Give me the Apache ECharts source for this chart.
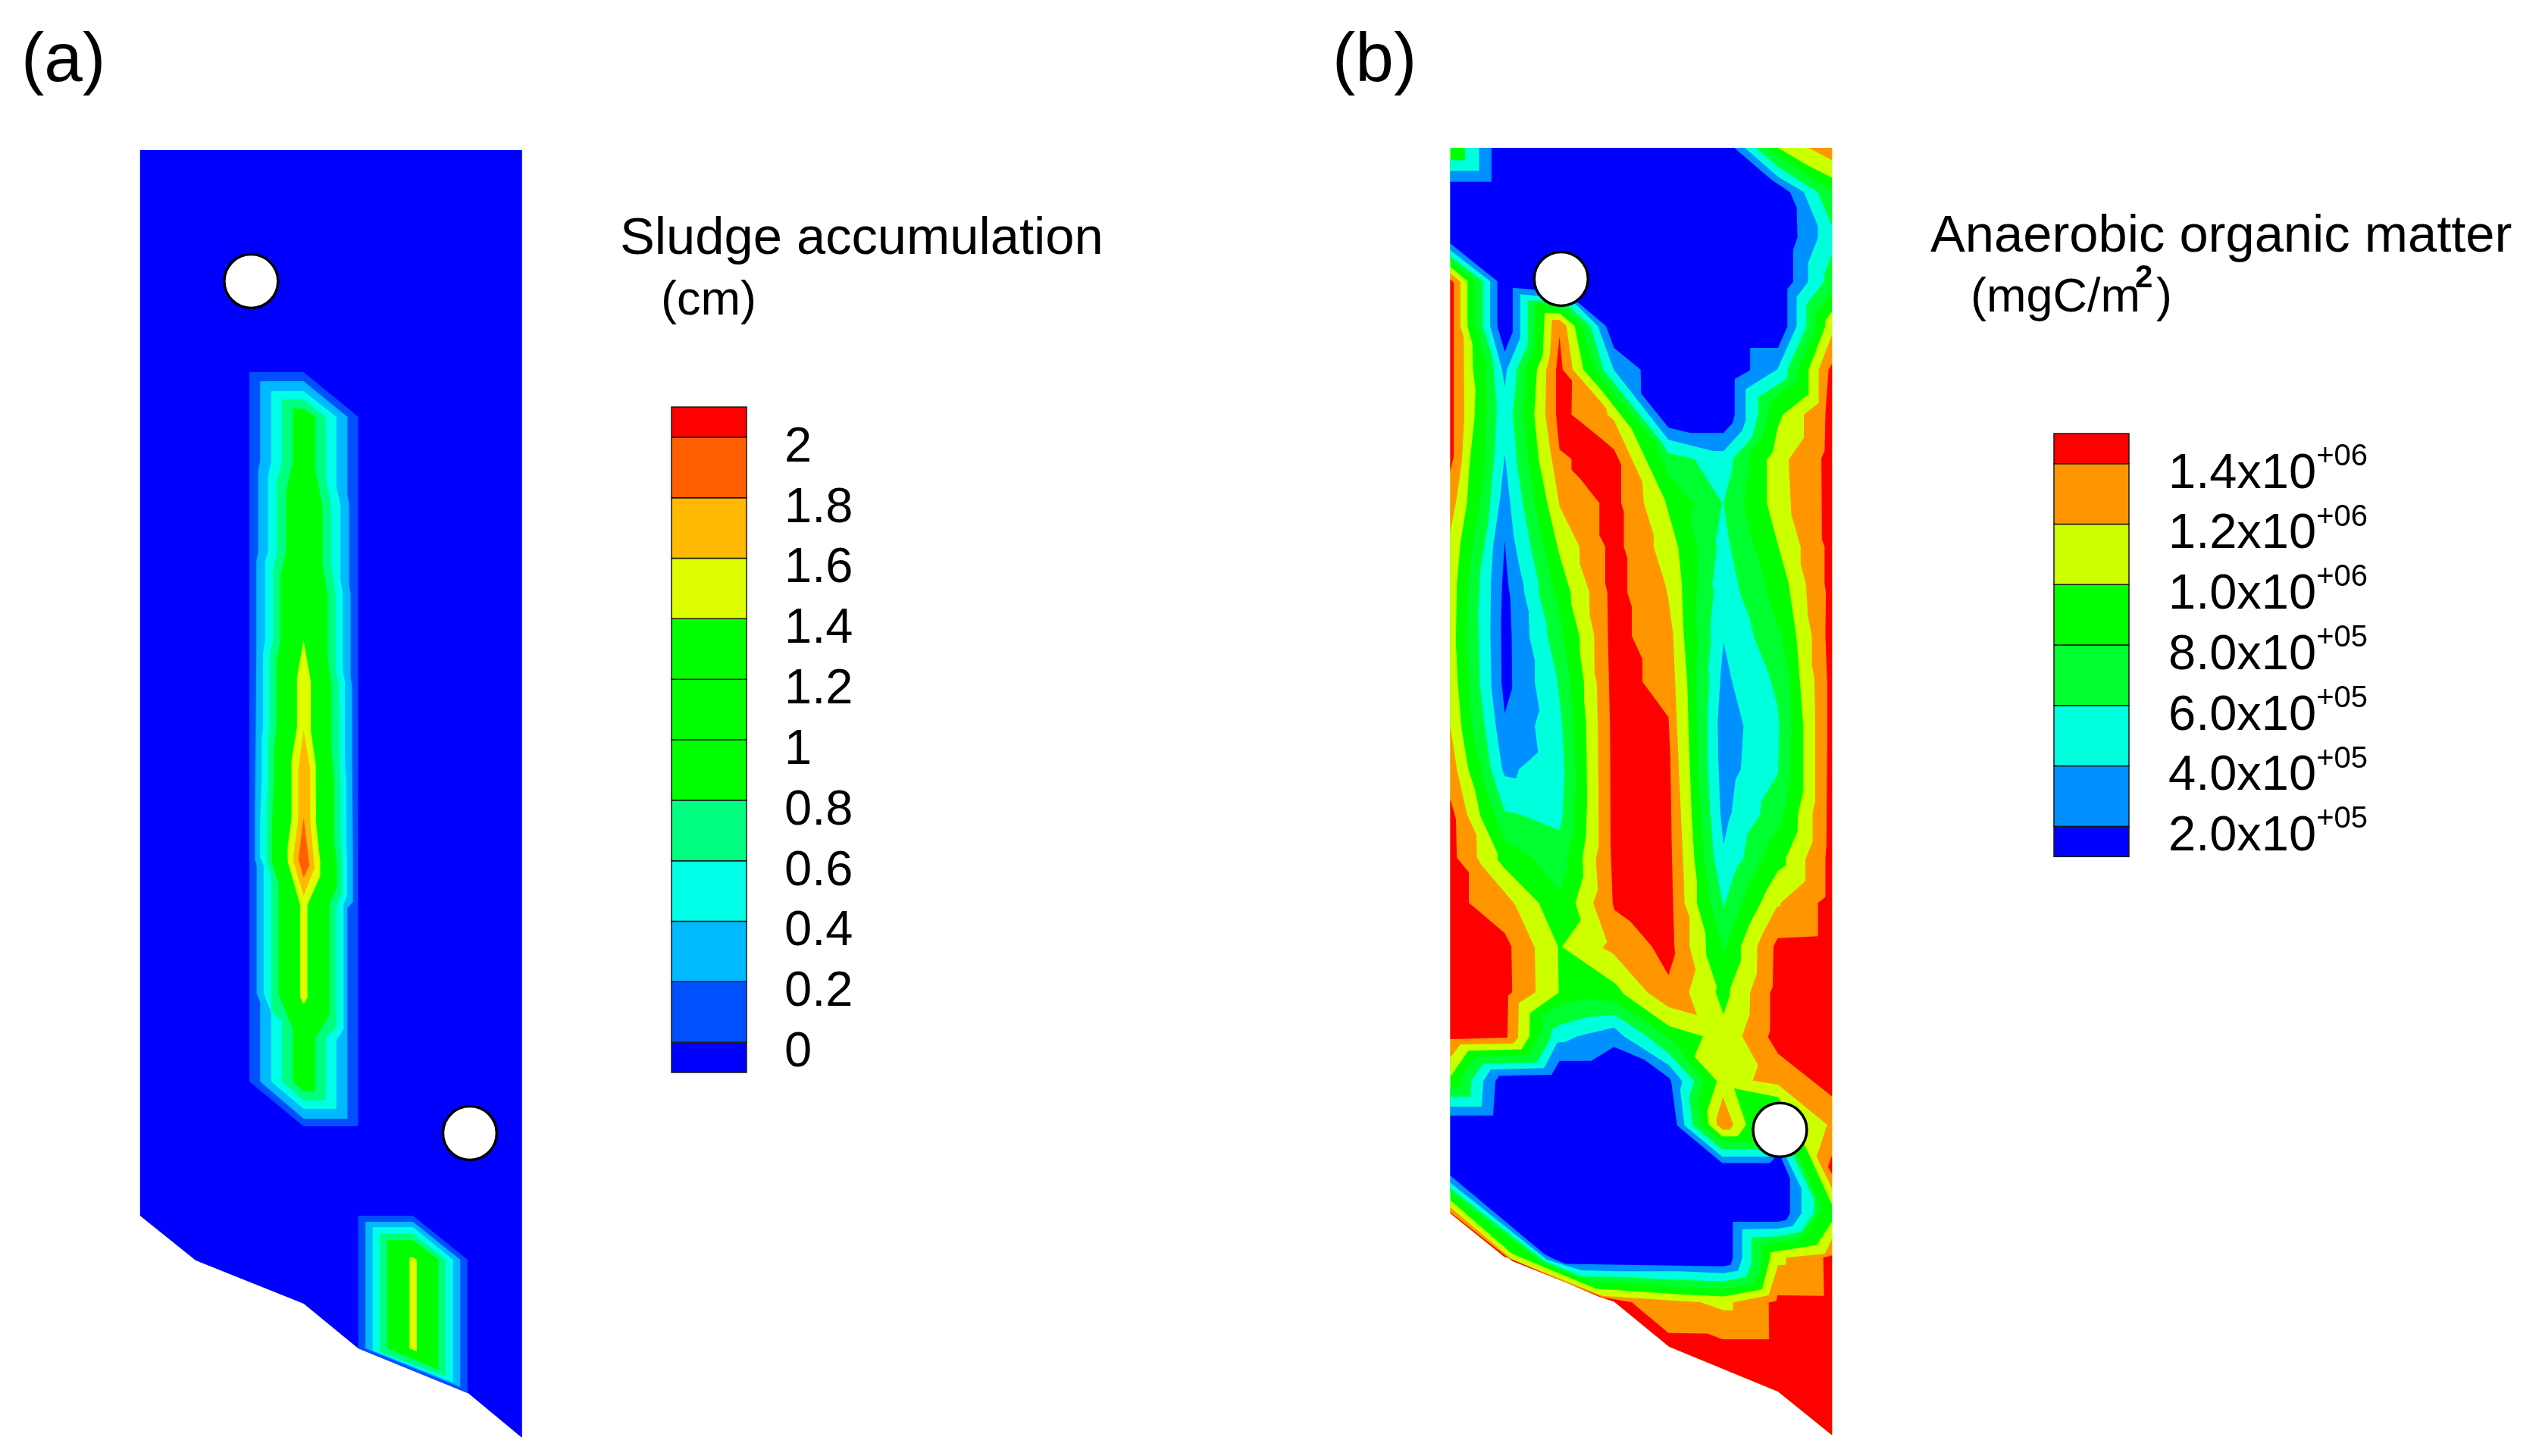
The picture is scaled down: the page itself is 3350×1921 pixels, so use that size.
<!DOCTYPE html>
<html>
<head>
<meta charset="utf-8">
<script src="https://cdn.jsdelivr.net/npm/echarts@6/dist/echarts.min.js"></script>
<style>
html, body { margin: 0; background: #fff; }
#chartContainer { width: 3350px; height: 1921px; }
</style>
</head>
<body>
<div id="chartContainer"></div>
<script>
'use strict';
// mesh coordinates, panel (a): x in mesh units, y down the page
const sludgeOutline = [[91,198],[1408,198],[1408,1897],[1222,1838],[843,1779],[655,1720],[283,1663],[91,1604]];
const sludgeMain1 = [[468,491],[655,491],[843,550],[843,1486],[655,1486],[468,1427]];
const sludgeMain2 = [[505,503],[655,503],[806,550],[806,653],[812,666],[812,771],[817,784],[817,894],[822,905],[823,1030],[825,1131],[825,1190],[806,1198],[806,1476],[655,1476],[505,1427],[505,1322],[493,1311],[493,1142],[487,1134],[487,1081],[488,1030],[490,960],[492,850],[492,740],[498,729],[498,620],[505,609]];
const sludgeMain3 = [[543,516],[655,516],[768,550],[768,642],[782,666],[782,765],[790,782],[790,883],[797,900],[797,1004],[802,1030],[803,1117],[805,1137],[805,1182],[793,1193],[793,1358],[768,1372],[768,1463],[655,1463],[543,1427],[543,1336],[517,1311],[517,1142],[505,1131],[505,1081],[510,1030],[510,976],[515,960],[515,861],[522,845],[522,740],[532,729],[532,628],[543,609]];
const sludgeMain4 = [[580,527],[655,527],[731,550],[731,631],[750,666],[750,746],[765,784],[765,883],[775,900],[778,1004],[782,1030],[782,1103],[788,1134],[788,1177],[768,1196],[768,1355],[731,1370],[731,1452],[655,1452],[580,1427],[580,1347],[543,1333],[543,1156],[527,1134],[527,1081],[532,1030],[532,982],[538,960],[538,864],[550,845],[550,751],[562,727],[562,636],[580,609]];
const sludgeMain5 = [[618,539],[655,539],[695,550],[695,620],[720,666],[720,746],[738,784],[738,867],[750,900],[750,982],[760,1030],[760,1109],[770,1137],[770,1170],[745,1193],[745,1339],[695,1370],[695,1440],[655,1440],[618,1427],[618,1358],[568,1311],[568,1165],[545,1137],[545,1097],[552,1030],[552,987],[562,960],[562,872],[575,845],[575,760],[595,727],[595,647],[618,609]];
const sludgeMain8 = [[655,845],[680,900],[680,965],[697,1009],[697,1030],[698,1086],[712,1137],[712,1156],[668,1194],[668,1316],[655,1325],[643,1316],[643,1194],[600,1137],[600,1117],[613,1081],[613,1004],[632,960],[632,894]];
const sludgeMain9 = [[655,963],[678,1017],[678,1086],[693,1145],[655,1182],[620,1137],[620,1128],[636,1081],[636,1017]];
const sludgeMain10 = [[655,1079],[675,1142],[655,1158],[637,1134]];
const sludgeSmall1 = [[843,1604],[1032,1604],[1220,1662],[1220,1838],[843,1779]];
const sludgeSmall2 = [[868,1612],[1032,1612],[1195,1662],[1195,1830],[868,1779]];
const sludgeSmall3 = [[893,1619],[1032,1619],[1170,1662],[1170,1824],[893,1782]];
const sludgeSmall4 = [[918,1628],[1032,1628],[1145,1662],[1145,1816],[918,1784]];
const sludgeSmall5 = [[943,1636],[1032,1636],[1120,1662],[1120,1807],[943,1779]];
const sludgeSmall8 = [[1020,1659],[1032,1659],[1045,1662],[1045,1783],[1020,1779]];
const sludgeWells = [[474,371],[1228,1495]];

// panel (b), mesh coordinates
const organicOutline = [[67,65],[1503,65],[1503,4503],[1300,4353],[890,4198],[683,4043],[625,4025],[300,3898],[270,3888],[67,3738]];
const organicTop3 = [[1258,65],[1450,185],[1503,210],[1503,565],[1440,640],[1440,690],[1372,830],[1372,865],[1265,945],[1262,985],[1240,1065],[1195,1115],[1190,1165],[1172,1290],[1195,1400],[1225,1480],[1252,1568],[1262,1613],[1310,1738],[1345,1898],[1350,2068],[1345,2228],[1330,2318],[1310,2398],[1255,2473],[1245,2513],[1195,2593],[1145,2718],[1095,2838],[1045,2668],[1022,2513],[1010,2358],[998,2168],[990,1888],[997,1788],[990,1638],[1000,1568],[997,1450],[970,1340],[985,1290],[893,1200],[840,1085],[610,830],[565,680],[490,620],[400,600],[390,600],[385,750],[350,830],[342,985],[360,1140],[385,1290],[420,1450],[450,1568],[478,1668],[495,1768],[520,1908],[530,2068],[540,2248],[530,2418],[505,2528],[510,2543],[478,2628],[385,2518],[275,2453],[230,2358],[182,2208],[150,2068],[140,1968],[130,1768],[133,1568],[150,1450],[172,1330],[195,1200],[205,960],[200,800],[160,680],[160,525],[67,458],[67,108],[123,108],[123,65]];
const organicTop2 = [[1218,65],[1300,130],[1450,218],[1503,335],[1503,430],[1475,500],[1473,527],[1407,605],[1407,682],[1335,832],[1335,860],[1225,925],[1225,985],[1202,1065],[1130,1137],[1130,1165],[1095,1290],[1120,1440],[1150,1568],[1160,1608],[1190,1678],[1212,1758],[1265,1878],[1298,1988],[1305,2058],[1300,2223],[1238,2316],[1232,2366],[1185,2430],[1170,2513],[1143,2550],[1095,2683],[1058,2508],[1045,2358],[1035,2188],[1035,2008],[1042,1898],[1037,1863],[1047,1768],[1045,1713],[1058,1598],[1053,1568],[1070,1445],[1065,1420],[1090,1290],[985,1137],[888,1118],[855,1072],[643,830],[595,680],[510,610],[420,592],[360,592],[358,745],[317,830],[315,870],[302,985],[320,1165],[340,1290],[372,1450],[400,1568],[400,1603],[430,1708],[433,1748],[468,1888],[488,2048],[497,2218],[490,2368],[478,2418],[330,2363],[272,2353],[220,2208],[192,2028],[178,1908],[172,1668],[178,1568],[180,1520],[210,1360],[235,1100],[242,960],[228,795],[190,680],[190,525],[67,440],[67,108],[123,108],[123,65]];
const organicTop1 = [[175,65],[1175,65],[1300,165],[1397,218],[1450,335],[1450,375],[1413,462],[1413,527],[1370,580],[1370,680],[1298,828],[1178,897],[1178,1005],[1165,1040],[1095,1110],[1055,1110],[888,1072],[682,830],[622,680],[540,605],[450,580],[330,570],[330,720],[280,830],[272,890],[262,830],[217,680],[217,525],[67,418],[67,145],[175,145]];
const organicTop0 = [[222,65],[1135,65],[1275,175],[1345,218],[1370,270],[1373,375],[1357,415],[1357,527],[1335,552],[1335,682],[1300,755],[1195,755],[1195,832],[1137,862],[1137,985],[1130,1012],[1095,1048],[970,1048],[888,1030],[785,912],[783,830],[683,755],[653,680],[550,600],[470,560],[302,548],[302,700],[272,768],[244,680],[244,525],[67,395],[67,182],[222,182]];
const organicLeftLobe1 = [[272,1120],[290,1270],[305,1400],[325,1500],[342,1568],[345,1598],[362,1663],[365,1753],[385,1833],[385,1908],[402,2003],[385,2058],[397,2148],[375,2168],[325,2208],[315,2240],[272,2231],[262,2208],[240,2068],[222,1928],[218,1738],[220,1568],[228,1440],[255,1270]];
const organicLeftLobe0 = [[272,1420],[285,1568],[293,1618],[298,1748],[300,1928],[272,2015],[260,1908],[258,1698],[262,1568]];
const organicRightLobe1 = [[1095,1768],[1125,1898],[1170,2058],[1160,2208],[1140,2243],[1125,2358],[1115,2383],[1095,2468],[1083,2358],[1075,2168],[1073,2038],[1085,1868]];
const organicLow3 = [[67,3305],[105,3303],[105,3273],[165,3198],[360,3193],[415,3103],[410,3058],[490,3015],[580,2998],[683,3008],[820,3088],[900,3143],[1020,3283],[1000,3338],[1010,3433],[1090,3493],[1200,3493],[1300,3500],[1380,3543],[1465,3723],[1385,3828],[1240,3848],[1235,3938],[1205,3983],[1095,3998],[930,3993],[700,3978],[600,3975],[420,3913],[67,3673]];
const organicLow2 = [[67,3336],[143,3336],[147,3280],[190,3223],[393,3218],[445,3133],[448,3106],[480,3088],[580,3063],[683,3053],[800,3123],[890,3188],[985,3283],[965,3338],[980,3435],[1090,3518],[1210,3518],[1300,3530],[1360,3543],[1435,3688],[1435,3738],[1385,3803],[1298,3818],[1200,3821],[1200,3913],[1180,3958],[1095,3973],[930,3968],[700,3958],[560,3956],[420,3903],[67,3653]];
const organicLow1 = [[67,3371],[185,3371],[192,3281],[220,3243],[420,3238],[470,3150],[500,3148],[545,3128],[683,3098],[720,3128],[890,3228],[940,3283],[932,3313],[948,3435],[1090,3543],[1240,3543],[1330,3543],[1388,3653],[1388,3738],[1355,3783],[1300,3791],[1165,3793],[1165,3893],[1150,3936],[1095,3945],[930,3938],[700,3938],[560,3935],[430,3898],[67,3633]];
const organicLow0 = [[67,3401],[228,3401],[237,3283],[250,3265],[448,3261],[478,3213],[597,3213],[683,3165],[795,3208],[890,3271],[898,3283],[920,3435],[1090,3565],[1270,3565],[1290,3543],[1310,3543],[1345,3618],[1345,3738],[1332,3761],[1300,3768],[1130,3768],[1130,3893],[1122,3916],[1095,3921],[500,3913],[450,3893],[420,3878],[67,3608]];
const organicLeft5 = [[67,475],[132,525],[132,680],[150,740],[153,830],[162,900],[158,1000],[140,1150],[130,1290],[105,1430],[92,1568],[88,1768],[95,1908],[110,2068],[135,2208],[160,2278],[180,2368],[245,2498],[245,2518],[265,2543],[400,2668],[472,2818],[475,2978],[367,3048],[365,3128],[335,3173],[135,3178],[67,3268]];
const organicCentre5 = [[422,635],[478,635],[535,680],[568,830],[640,905],[750,1035],[875,1280],[925,1445],[938,1568],[940,1628],[945,1738],[958,1898],[965,2118],[975,2368],[985,2518],[995,2593],[995,2668],[1027,2773],[1030,2848],[1070,2958],[1065,2976],[1095,3053],[1118,2988],[1120,2963],[1160,2868],[1160,2818],[1195,2738],[1235,2668],[1255,2628],[1300,2558],[1330,2538],[1330,2513],[1373,2423],[1375,2363],[1395,2283],[1395,2058],[1370,1758],[1340,1568],[1290,1400],[1258,1290],[1258,1140],[1280,1115],[1300,1025],[1318,985],[1415,915],[1415,830],[1478,680],[1478,660],[1503,630],[1503,3708],[1405,3513],[1300,3338],[1135,3308],[1180,3433],[1148,3473],[1090,3473],[1040,3433],[1033,3388],[1070,3283],[985,3198],[1018,3128],[890,3093],[720,2983],[690,2948],[487,2820],[558,2728],[538,2668],[567,2578],[565,2508],[577,2438],[582,2318],[580,2168],[578,2048],[570,1968],[570,1908],[555,1808],[553,1748],[522,1638],[520,1598],[510,1568],[475,1460],[432,1290],[400,1140],[383,985],[393,830],[415,780]];
const organicBottom5 = [[1503,3768],[1445,3848],[1272,3873],[1270,3893],[1240,4001],[1095,4025],[930,4018],[615,3998],[300,3878],[67,3693],[67,3738],[270,3888],[300,3898],[625,4025],[683,4043],[890,4198],[1300,4353],[1503,4503]];
const organicCorner5 = [[1300,65],[1400,120],[1503,168],[1503,65]];
const organicCorner6 = [[1415,65],[1503,108],[1503,65]];
const organicLeftUpper6 = [[67,497],[105,527],[105,680],[118,720],[120,1000],[110,1150],[90,1280],[67,1390]];
const organicLeftLower6 = [[67,2058],[92,2208],[130,2363],[165,2433],[168,2513],[185,2538],[245,2603],[310,2673],[385,2823],[388,2976],[325,3013],[322,3133],[305,3153],[105,3156],[67,3201]];
const organicCentre6 = [[450,658],[442,780],[428,830],[425,985],[442,1100],[478,1300],[553,1440],[555,1500],[580,1568],[590,1598],[592,1678],[608,1743],[610,1878],[618,1908],[622,2048],[625,2368],[625,2473],[615,2518],[622,2623],[605,2668],[657,2803],[640,2823],[680,2843],[810,2978],[890,3028],[995,3055],[965,2976],[990,2898],[967,2818],[967,2718],[948,2668],[945,2568],[935,2368],[925,2168],[905,1738],[885,1608],[875,1568],[832,1440],[832,1400],[795,1290],[790,1218],[683,1005],[658,985],[655,965],[600,905],[528,830],[504,680],[478,658]];
const organicRight6 = [[1503,710],[1453,830],[1453,945],[1397,985],[1397,1065],[1340,1140],[1350,1330],[1385,1440],[1385,1500],[1405,1568],[1412,1678],[1427,1748],[1427,1848],[1437,1898],[1440,2048],[1440,2318],[1430,2358],[1430,2458],[1403,2518],[1403,2593],[1310,2668],[1310,2678],[1295,2683],[1240,2778],[1222,2818],[1220,2913],[1195,2978],[1193,3053],[1165,3128],[1225,3228],[1205,3281],[1300,3295],[1485,3433],[1445,3543],[1503,3653]];
const organicDrop6 = [[1093,3338],[1068,3413],[1070,3433],[1093,3450],[1118,3450],[1132,3433]];
const organicBottom6 = [[1503,3828],[1475,3878],[1330,3891],[1330,3915],[1300,3918],[1265,4021],[1130,4046],[1130,4073],[1095,4073],[1010,4045],[930,4041],[640,4023],[300,3898],[67,3718],[67,3738],[270,3888],[300,3898],[625,4025],[683,4043],[890,4198],[1300,4353],[1503,4503]];
const organicLeftUpper7 = [[67,518],[80,530],[80,1130],[67,1180]];
const organicLeftLower7 = [[67,2308],[88,2378],[92,2513],[137,2563],[137,2668],[170,2693],[272,2773],[297,2818],[300,2976],[285,2988],[282,3133],[67,3138]];
const organicCentre7 = [[478,715],[490,830],[525,868],[523,985],[632,1065],[683,1105],[710,1158],[710,1290],[720,1320],[720,1440],[733,1480],[733,1598],[750,1648],[750,1748],[790,1828],[790,1906],[888,2028],[895,2168],[900,2468],[905,2668],[910,2818],[913,2843],[888,2918],[825,2818],[745,2733],[685,2693],[678,2673],[670,2468],[668,2068],[660,1748],[658,1598],[650,1568],[650,1440],[628,1400],[628,1290],[555,1205],[523,1175],[523,1138],[478,1105],[465,985],[465,830]];
const organicRight7 = [[1503,810],[1490,830],[1478,985],[1475,1110],[1463,1135],[1465,1415],[1475,1440],[1475,1568],[1480,1598],[1478,1748],[1485,1908],[1485,2118],[1482,2468],[1478,2513],[1478,2648],[1450,2668],[1450,2783],[1298,2790],[1283,2818],[1280,2958],[1270,2978],[1270,3108],[1262,3131],[1300,3188],[1503,3335]];
const organicNotch7 = [[1503,3538],[1488,3578],[1503,3603]];
const organicBottom7 = [[1503,3883],[1470,3891],[1473,4023],[1298,4021],[1293,4041],[1265,4046],[1266,4173],[1090,4173],[1035,4153],[888,4151],[750,4045],[640,4028],[300,3903],[67,3735],[67,3738],[270,3888],[300,3898],[625,4025],[683,4043],[890,4198],[1300,4353],[1503,4503]];
const organicWells = [[484,517],[1307,3451]];

// legends
const sludgeEdges = [-0.1, 0, 0.2, 0.4, 0.6, 0.8, 1, 1.2, 1.4, 1.6, 1.8, 2, 2.1];
const sludgeTicks = ['0', '0.2', '0.4', '0.6', '0.8', '1', '1.2', '1.4', '1.6', '1.8', '2'];
const organicEdges = [1e5, 2e5, 4e5, 6e5, 8e5, 1e6, 1.2e6, 1.4e6, 1.5e6];
const organicTicks = ['2.0x10', '4.0x10', '6.0x10', '8.0x10', '1.0x10', '1.2x10', '1.4x10'];
const organicExponents = ['+05', '+05', '+05', '+05', '+06', '+06', '+06'];

const sludgeColors = ['#0000ff', '#0050ff', '#00b9ff', '#00ffe6', '#00ff80', '#00ff00', '#00ff00', '#00ff00', '#dfff00', '#ffb900', '#ff5f00', '#ff0000'];
const organicColors = ['#0000ff', '#0090ff', '#00ffdc', '#00ff30', '#00ff00', '#ccff00', '#ff9600', '#ff0000'];

// painted in this order, later ones on top: [colour index, polygon]
const sludgeLayers = [
    [0, sludgeOutline],
    [1, sludgeMain1], [2, sludgeMain2], [3, sludgeMain3], [4, sludgeMain4], [5, sludgeMain5],
    [8, sludgeMain8], [9, sludgeMain9], [10, sludgeMain10],
    [1, sludgeSmall1], [2, sludgeSmall2], [3, sludgeSmall3], [4, sludgeSmall4], [5, sludgeSmall5], [8, sludgeSmall8]
];
const organicLayers = [
    [4, organicOutline],
    [3, organicTop3], [3, organicLow3],
    [2, organicTop2], [2, organicLow2],
    [1, organicTop1], [1, organicLow1], [1, organicLeftLobe1], [1, organicRightLobe1],
    [0, organicTop0], [0, organicLow0], [0, organicLeftLobe0],
    [5, organicLeft5], [5, organicCentre5], [5, organicBottom5], [5, organicCorner5],
    [6, organicCorner6], [6, organicLeftUpper6], [6, organicLeftLower6], [6, organicCentre6], [6, organicRight6], [6, organicDrop6], [6, organicBottom6],
    [7, organicLeftUpper7], [7, organicLeftLower7], [7, organicCentre7], [7, organicRight7], [7, organicNotch7], [7, organicBottom7]
];

const font = 'Liberation Sans';

function contourSeries(layers, colors, axis) {
    return {
        type: 'custom',
        xAxisIndex: axis,
        yAxisIndex: axis,
        silent: true,
        clip: false,
        data: layers.map((l, i) => [i, i]),
        renderItem: function(params, api) {
            let layer = layers[params.dataIndex];
            return {
                type: 'polygon',
                shape: { points: layer[1].map(p => api.coord(p)) },
                style: { fill: colors[layer[0]] }
            };
        }
    };
}

function wellSeries(wells, axis) {
    return {
        type: 'scatter',
        xAxisIndex: axis,
        yAxisIndex: axis,
        silent: true,
        z: 5,
        symbol: 'circle',
        symbolSize: 71,
        itemStyle: { color: '#fff', borderColor: '#000', borderWidth: 3.5, opacity: 1 },
        data: wells
    };
}

function legendSeries(edges, colors, axis) {
    return {
        type: 'custom',
        xAxisIndex: axis,
        yAxisIndex: axis,
        silent: true,
        clip: false,
        data: colors.map((c, i) => [0, edges[i], i]),
        renderItem: function(params, api) {
            let i = params.dataIndex;
            let a = api.coord([0, edges[i]]);
            let b = api.coord([1, edges[i + 1]]);
            return {
                type: 'rect',
                shape: { x: a[0], y: b[1], width: b[0] - a[0], height: a[1] - b[1] },
                style: { fill: colors[i], stroke: '#1a1a1a', lineWidth: 1.5 }
            };
        }
    };
}

function hiddenX(min, max, gridIndex) {
    return { type: 'value', gridIndex: gridIndex, min: min, max: max, show: false };
}

function heading(text, left, top, size) {
    return {
        text: text, left: left, top: top, padding: 0,
        textStyle: { fontFamily: font, fontWeight: 'normal', fontSize: size, color: '#000' }
    };
}

let chart = echarts.init(document.getElementById('chartContainer'), null, { renderer: 'canvas' });

chart.setOption({
    backgroundColor: '#fff',
    animation: false,
    title: [
        heading('(a)', 28, 36, 91),
        heading('(b)', 1758, 36, 91),
        heading('Sludge accumulation', 818, 282, 68.7),
        heading('(cm)', 872, 366, 63),
        heading('Anaerobic organic matter', 2547, 279, 68.7),
        heading('(mgC/m', 2600, 362, 63),
        {
            text: '2', left: 2817, top: 346, padding: 0,
            textStyle: { fontFamily: font, fontWeight: 'bold', fontSize: 42, color: '#000' }
        },
        heading(')', 2845, 362, 63)
    ],
    grid: [
        { left: 184.8, top: 198, width: 504, height: 1699 },
        { left: 1913.5, top: 195, width: 503.7, height: 1698.4 },
        { left: 886, top: 497, width: 99, height: 958 },
        { left: 2710, top: 532, width: 99, height: 638 }
    ],
    xAxis: [
        hiddenX(91, 1408, 0),
        hiddenX(67, 1503, 1),
        hiddenX(0, 1, 2),
        hiddenX(0, 1, 3)
    ],
    yAxis: [
        { type: 'value', gridIndex: 0, min: 198, max: 1897, inverse: true, show: false },
        { type: 'value', gridIndex: 1, min: 65, max: 4503, inverse: true, show: false },
        {
            type: 'value', gridIndex: 2, position: 'right', min: -0.2, max: 2.2, interval: 0.2,
            axisLine: { show: false }, axisTick: { show: false }, splitLine: { show: false },
            axisLabel: {
                margin: 50, align: 'left', verticalAlign: 'middle', padding: [28, 0, 0, 0],
                formatter: function(v) {
                    let t = sludgeTicks[Math.round(v / 0.2)];
                    return t ? '{n|' + t + '}' : '';
                },
                rich: {
                    n: { fontFamily: font, fontSize: 65, color: '#000' }
                }
            }
        },
        {
            type: 'value', gridIndex: 3, position: 'right', min: 0, max: 1.6e6, interval: 2e5,
            axisLine: { show: false }, axisTick: { show: false }, splitLine: { show: false },
            axisLabel: {
                margin: 52, align: 'left', verticalAlign: 'middle', padding: [28, 0, 0, 0],
                formatter: function(v) {
                    let i = Math.round(v / 2e5) - 1;
                    if (!organicTicks[i]) return '';
                    return '{b|' + organicTicks[i] + '}{s|' + organicExponents[i] + '}';
                },
                rich: {
                    b: { fontFamily: font, fontSize: 65, color: '#000' },
                    s: { fontFamily: font, fontSize: 40, color: '#000', padding: [0, 0, 46, 0] }
                }
            }
        }
    ],
    series: [
        contourSeries(sludgeLayers, sludgeColors, 0),
        wellSeries(sludgeWells, 0),
        contourSeries(organicLayers, organicColors, 1),
        wellSeries(organicWells, 1),
        legendSeries(sludgeEdges, sludgeColors, 2),
        legendSeries(organicEdges, organicColors, 3)
    ]
});
</script>
</body>
</html>
